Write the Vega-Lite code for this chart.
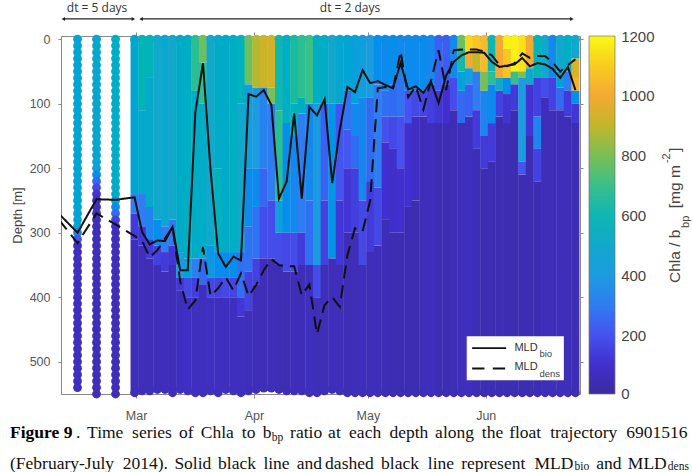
{"$schema":"https://vega.github.io/schema/vega-lite/v6.json","autosize":{"type":"none"},"padding":{"left":61,"top":36,"right":112,"bottom":78},"width":519,"height":358,"background":"white","config":{"view":{"stroke":"#8a8a8a","strokeWidth":1},"font":"Liberation Sans"},
"resolve":{"axis":{"x":"independent","y":"independent"}},
"datasets":{
"bands":[
{"t":59.6,"d":0,"e":240,"v":470},{"t":59.6,"d":240,"e":270,"v":300},{"t":59.6,"d":270,"e":310,"v":130},{"t":59.6,"d":310,"e":545,"v":60},
{"t":61.6,"d":0,"e":110,"v":590},{"t":61.6,"d":110,"e":240,"v":510},{"t":61.6,"d":240,"e":290,"v":300},{"t":61.6,"d":290,"e":320,"v":120},{"t":61.6,"d":320,"e":545,"v":60},
{"t":63.6,"d":0,"e":60,"v":580},{"t":63.6,"d":60,"e":260,"v":510},{"t":63.6,"d":260,"e":310,"v":320},{"t":63.6,"d":310,"e":340,"v":130},{"t":63.6,"d":340,"e":545,"v":55},
{"t":65.6,"d":0,"e":280,"v":500},{"t":65.6,"d":280,"e":320,"v":350},{"t":65.6,"d":320,"e":350,"v":150},{"t":65.6,"d":350,"e":545,"v":60},
{"t":67.6,"d":0,"e":290,"v":490},{"t":67.6,"d":290,"e":330,"v":300},{"t":67.6,"d":330,"e":360,"v":130},{"t":67.6,"d":360,"e":545,"v":60},
{"t":69.6,"d":0,"e":280,"v":500},{"t":69.6,"d":280,"e":320,"v":300},{"t":69.6,"d":320,"e":350,"v":120},{"t":69.6,"d":350,"e":545,"v":55},
{"t":71.6,"d":0,"e":330,"v":520},{"t":71.6,"d":330,"e":370,"v":400},{"t":71.6,"d":370,"e":390,"v":120},{"t":71.6,"d":390,"e":545,"v":70},
{"t":73.6,"d":0,"e":340,"v":540},{"t":73.6,"d":340,"e":370,"v":450},{"t":73.6,"d":370,"e":400,"v":170},{"t":73.6,"d":400,"e":545,"v":80},
{"t":75.6,"d":0,"e":80,"v":680},{"t":75.6,"d":80,"e":340,"v":530},{"t":75.6,"d":340,"e":370,"v":300},{"t":75.6,"d":370,"e":400,"v":140},{"t":75.6,"d":400,"e":545,"v":70},
{"t":77.6,"d":0,"e":36,"v":780},{"t":77.6,"d":36,"e":100,"v":680},{"t":77.6,"d":100,"e":340,"v":530},{"t":77.6,"d":340,"e":380,"v":250},{"t":77.6,"d":380,"e":545,"v":70},
{"t":79.6,"d":0,"e":320,"v":500},{"t":79.6,"d":320,"e":370,"v":380},{"t":79.6,"d":370,"e":400,"v":170},{"t":79.6,"d":400,"e":545,"v":70},
{"t":81.6,"d":0,"e":200,"v":520},{"t":81.6,"d":200,"e":330,"v":560},{"t":81.6,"d":330,"e":370,"v":350},{"t":81.6,"d":370,"e":400,"v":150},{"t":81.6,"d":400,"e":545,"v":70},
{"t":83.6,"d":0,"e":330,"v":520},{"t":83.6,"d":330,"e":370,"v":340},{"t":83.6,"d":370,"e":400,"v":170},{"t":83.6,"d":400,"e":545,"v":70},
{"t":85.6,"d":0,"e":330,"v":540},{"t":85.6,"d":330,"e":370,"v":350},{"t":85.6,"d":370,"e":400,"v":160},{"t":85.6,"d":400,"e":545,"v":70},
{"t":87.6,"d":0,"e":100,"v":560},{"t":87.6,"d":100,"e":330,"v":500},{"t":87.6,"d":330,"e":400,"v":260},{"t":87.6,"d":400,"e":430,"v":120},{"t":87.6,"d":430,"e":545,"v":70},
{"t":89.6,"d":0,"e":70,"v":780},{"t":89.6,"d":70,"e":200,"v":420},{"t":89.6,"d":200,"e":290,"v":340},{"t":89.6,"d":290,"e":360,"v":270},{"t":89.6,"d":360,"e":420,"v":150},{"t":89.6,"d":420,"e":545,"v":60},
{"t":91.6,"d":0,"e":75,"v":880},{"t":91.6,"d":75,"e":200,"v":400},{"t":91.6,"d":200,"e":260,"v":340},{"t":91.6,"d":260,"e":340,"v":270},{"t":91.6,"d":340,"e":380,"v":150},{"t":91.6,"d":380,"e":545,"v":60},
{"t":93.6,"d":0,"e":75,"v":920},{"t":93.6,"d":75,"e":200,"v":310},{"t":93.6,"d":200,"e":260,"v":240},{"t":93.6,"d":260,"e":340,"v":180},{"t":93.6,"d":340,"e":545,"v":55},
{"t":95.6,"d":0,"e":75,"v":930},{"t":95.6,"d":75,"e":100,"v":800},{"t":95.6,"d":100,"e":250,"v":300},{"t":95.6,"d":250,"e":340,"v":180},{"t":95.6,"d":340,"e":545,"v":55},
{"t":97.6,"d":0,"e":110,"v":600},{"t":97.6,"d":110,"e":250,"v":680},{"t":97.6,"d":250,"e":300,"v":420},{"t":97.6,"d":300,"e":350,"v":180},{"t":97.6,"d":350,"e":545,"v":50},
{"t":99.6,"d":0,"e":130,"v":540},{"t":99.6,"d":130,"e":300,"v":350},{"t":99.6,"d":300,"e":360,"v":170},{"t":99.6,"d":360,"e":545,"v":50},
{"t":101.6,"d":0,"e":100,"v":650},{"t":101.6,"d":100,"e":150,"v":560},{"t":101.6,"d":150,"e":300,"v":330},{"t":101.6,"d":300,"e":360,"v":180},{"t":101.6,"d":360,"e":545,"v":55},
{"t":103.6,"d":0,"e":90,"v":680},{"t":103.6,"d":90,"e":115,"v":540},{"t":103.6,"d":115,"e":300,"v":300},{"t":103.6,"d":300,"e":350,"v":130},{"t":103.6,"d":350,"e":545,"v":50},
{"t":105.6,"d":0,"e":100,"v":700},{"t":105.6,"d":100,"e":250,"v":330},{"t":105.6,"d":250,"e":350,"v":260},{"t":105.6,"d":350,"e":545,"v":70},
{"t":107.6,"d":0,"e":100,"v":540},{"t":107.6,"d":100,"e":350,"v":400},{"t":107.6,"d":350,"e":400,"v":180},{"t":107.6,"d":400,"e":545,"v":55},
{"t":109.6,"d":0,"e":100,"v":530},{"t":109.6,"d":100,"e":250,"v":230},{"t":109.6,"d":250,"e":350,"v":150},{"t":109.6,"d":350,"e":545,"v":55},
{"t":111.6,"d":0,"e":100,"v":500},{"t":111.6,"d":100,"e":340,"v":370},{"t":111.6,"d":340,"e":545,"v":60},
{"t":113.6,"d":0,"e":100,"v":480},{"t":113.6,"d":100,"e":250,"v":200},{"t":113.6,"d":250,"e":350,"v":120},{"t":113.6,"d":350,"e":545,"v":55},
{"t":115.6,"d":0,"e":80,"v":470},{"t":115.6,"d":80,"e":140,"v":280},{"t":115.6,"d":140,"e":200,"v":210},{"t":115.6,"d":200,"e":300,"v":120},{"t":115.6,"d":300,"e":545,"v":50},
{"t":117.6,"d":0,"e":100,"v":430},{"t":117.6,"d":100,"e":150,"v":330},{"t":117.6,"d":150,"e":200,"v":250},{"t":117.6,"d":200,"e":300,"v":140},{"t":117.6,"d":300,"e":545,"v":55},
{"t":119.6,"d":0,"e":90,"v":420},{"t":119.6,"d":90,"e":250,"v":330},{"t":119.6,"d":250,"e":350,"v":170},{"t":119.6,"d":350,"e":545,"v":60},
{"t":121.6,"d":0,"e":90,"v":400},{"t":121.6,"d":90,"e":220,"v":250},{"t":121.6,"d":220,"e":330,"v":130},{"t":121.6,"d":330,"e":545,"v":55},
{"t":123.6,"d":0,"e":70,"v":350},{"t":123.6,"d":70,"e":230,"v":300},{"t":123.6,"d":230,"e":320,"v":170},{"t":123.6,"d":320,"e":545,"v":60},
{"t":125.6,"d":0,"e":80,"v":340},{"t":125.6,"d":80,"e":120,"v":260},{"t":125.6,"d":120,"e":160,"v":190},{"t":125.6,"d":160,"e":280,"v":100},{"t":125.6,"d":280,"e":545,"v":50},
{"t":127.6,"d":0,"e":70,"v":350},{"t":127.6,"d":70,"e":120,"v":250},{"t":127.6,"d":120,"e":170,"v":170},{"t":127.6,"d":170,"e":300,"v":90},{"t":127.6,"d":300,"e":545,"v":45},
{"t":129.6,"d":0,"e":60,"v":330},{"t":129.6,"d":60,"e":120,"v":270},{"t":129.6,"d":120,"e":200,"v":190},{"t":129.6,"d":200,"e":300,"v":100},{"t":129.6,"d":300,"e":545,"v":45},
{"t":131.6,"d":0,"e":80,"v":340},{"t":131.6,"d":80,"e":130,"v":200},{"t":131.6,"d":130,"e":260,"v":100},{"t":131.6,"d":260,"e":545,"v":45},
{"t":133.6,"d":0,"e":80,"v":340},{"t":133.6,"d":80,"e":120,"v":170},{"t":133.6,"d":120,"e":250,"v":80},{"t":133.6,"d":250,"e":545,"v":40},
{"t":135.6,"d":0,"e":80,"v":340},{"t":135.6,"d":80,"e":120,"v":160},{"t":135.6,"d":120,"e":545,"v":60},
{"t":137.6,"d":0,"e":70,"v":330},{"t":137.6,"d":70,"e":130,"v":140},{"t":137.6,"d":130,"e":545,"v":65},
{"t":139.6,"d":0,"e":80,"v":230},{"t":139.6,"d":80,"e":130,"v":120},{"t":139.6,"d":130,"e":545,"v":45},
{"t":141.6,"d":0,"e":70,"v":220},{"t":141.6,"d":70,"e":130,"v":100},{"t":141.6,"d":130,"e":545,"v":45},
{"t":143.6,"d":0,"e":60,"v":330},{"t":143.6,"d":60,"e":110,"v":180},{"t":143.6,"d":110,"e":545,"v":50},
{"t":145.6,"d":0,"e":15,"v":780},{"t":145.6,"d":15,"e":50,"v":640},{"t":145.6,"d":50,"e":80,"v":450},{"t":145.6,"d":80,"e":130,"v":250},{"t":145.6,"d":130,"e":545,"v":60},
{"t":147.6,"d":0,"e":20,"v":1120},{"t":147.6,"d":20,"e":45,"v":1000},{"t":147.6,"d":45,"e":70,"v":400},{"t":147.6,"d":70,"e":120,"v":230},{"t":147.6,"d":120,"e":545,"v":70},
{"t":149.6,"d":0,"e":20,"v":1080},{"t":149.6,"d":20,"e":50,"v":900},{"t":149.6,"d":50,"e":110,"v":300},{"t":149.6,"d":110,"e":170,"v":130},{"t":149.6,"d":170,"e":545,"v":50},
{"t":151.6,"d":0,"e":50,"v":1050},{"t":151.6,"d":50,"e":80,"v":800},{"t":151.6,"d":80,"e":150,"v":320},{"t":151.6,"d":150,"e":200,"v":130},{"t":151.6,"d":200,"e":545,"v":45},
{"t":153.6,"d":0,"e":50,"v":600},{"t":153.6,"d":50,"e":70,"v":680},{"t":153.6,"d":70,"e":130,"v":340},{"t":153.6,"d":130,"e":190,"v":130},{"t":153.6,"d":190,"e":545,"v":45},
{"t":155.6,"d":0,"e":60,"v":1000},{"t":155.6,"d":60,"e":80,"v":500},{"t":155.6,"d":80,"e":120,"v":150},{"t":155.6,"d":120,"e":545,"v":45},
{"t":157.6,"d":0,"e":15,"v":1180},{"t":157.6,"d":15,"e":60,"v":1080},{"t":157.6,"d":60,"e":85,"v":350},{"t":157.6,"d":85,"e":130,"v":110},{"t":157.6,"d":130,"e":545,"v":45},
{"t":159.6,"d":0,"e":50,"v":1180},{"t":159.6,"d":50,"e":70,"v":700},{"t":159.6,"d":70,"e":110,"v":130},{"t":159.6,"d":110,"e":545,"v":40},
{"t":161.6,"d":0,"e":50,"v":1150},{"t":161.6,"d":50,"e":60,"v":800},{"t":161.6,"d":60,"e":190,"v":400},{"t":161.6,"d":190,"e":210,"v":200},{"t":161.6,"d":210,"e":545,"v":45},
{"t":163.6,"d":0,"e":45,"v":1000},{"t":163.6,"d":45,"e":70,"v":500},{"t":163.6,"d":70,"e":150,"v":110},{"t":163.6,"d":150,"e":545,"v":45},
{"t":165.6,"d":0,"e":60,"v":580},{"t":165.6,"d":60,"e":120,"v":150},{"t":165.6,"d":120,"e":170,"v":320},{"t":165.6,"d":170,"e":220,"v":150},{"t":165.6,"d":220,"e":545,"v":45},
{"t":167.6,"d":0,"e":60,"v":500},{"t":167.6,"d":60,"e":90,"v":180},{"t":167.6,"d":90,"e":545,"v":60},
{"t":169.6,"d":0,"e":60,"v":330},{"t":169.6,"d":60,"e":110,"v":150},{"t":169.6,"d":110,"e":545,"v":55},
{"t":171.6,"d":0,"e":50,"v":500},{"t":171.6,"d":50,"e":75,"v":450},{"t":171.6,"d":75,"e":110,"v":250},{"t":171.6,"d":110,"e":545,"v":60},
{"t":173.6,"d":0,"e":50,"v":530},{"t":173.6,"d":50,"e":80,"v":300},{"t":173.6,"d":80,"e":120,"v":130},{"t":173.6,"d":120,"e":545,"v":55},
{"t":175.6,"d":0,"e":30,"v":500},{"t":175.6,"d":30,"e":60,"v":950},{"t":175.6,"d":60,"e":80,"v":1020},{"t":175.6,"d":80,"e":100,"v":350},{"t":175.6,"d":100,"e":130,"v":120},{"t":175.6,"d":130,"e":545,"v":50}
],
"dots":[
{"t":44.6,"d":0,"v":470},{"t":44.6,"d":10,"v":470},{"t":44.6,"d":20,"v":470},{"t":44.6,"d":30,"v":470},{"t":44.6,"d":40,"v":470},{"t":44.6,"d":50,"v":470},{"t":44.6,"d":60,"v":470},{"t":44.6,"d":70,"v":470},{"t":44.6,"d":80,"v":470},{"t":44.6,"d":90,"v":470},{"t":44.6,"d":100,"v":470},{"t":44.6,"d":110,"v":470},{"t":44.6,"d":120,"v":470},{"t":44.6,"d":130,"v":470},{"t":44.6,"d":140,"v":470},{"t":44.6,"d":150,"v":470},{"t":44.6,"d":160,"v":470},{"t":44.6,"d":170,"v":470},{"t":44.6,"d":180,"v":470},{"t":44.6,"d":190,"v":470},{"t":44.6,"d":200,"v":470},{"t":44.6,"d":210,"v":470},{"t":44.6,"d":220,"v":470},{"t":44.6,"d":230,"v":470},{"t":44.6,"d":240,"v":470},{"t":44.6,"d":250,"v":470},{"t":44.6,"d":260,"v":470},{"t":44.6,"d":270,"v":470},{"t":44.6,"d":280,"v":470},{"t":44.6,"d":290,"v":470},{"t":44.6,"d":300,"v":320},{"t":44.6,"d":310,"v":200},{"t":44.6,"d":320,"v":70},{"t":44.6,"d":330,"v":70},{"t":44.6,"d":340,"v":70},{"t":44.6,"d":350,"v":70},{"t":44.6,"d":360,"v":70},{"t":44.6,"d":370,"v":70},{"t":44.6,"d":380,"v":70},{"t":44.6,"d":390,"v":70},{"t":44.6,"d":400,"v":70},{"t":44.6,"d":410,"v":70},{"t":44.6,"d":420,"v":70},{"t":44.6,"d":430,"v":70},{"t":44.6,"d":440,"v":70},{"t":44.6,"d":450,"v":70},{"t":44.6,"d":460,"v":70},{"t":44.6,"d":470,"v":70},{"t":44.6,"d":480,"v":70},{"t":44.6,"d":490,"v":70},{"t":44.6,"d":500,"v":70},{"t":44.6,"d":510,"v":70},{"t":44.6,"d":520,"v":70},{"t":44.6,"d":530,"v":70},{"t":44.6,"d":540,"v":70},
{"t":49.6,"d":0,"v":480},{"t":49.6,"d":10,"v":480},{"t":49.6,"d":20,"v":480},{"t":49.6,"d":30,"v":480},{"t":49.6,"d":40,"v":480},{"t":49.6,"d":50,"v":480},{"t":49.6,"d":60,"v":480},{"t":49.6,"d":70,"v":480},{"t":49.6,"d":80,"v":480},{"t":49.6,"d":90,"v":480},{"t":49.6,"d":100,"v":480},{"t":49.6,"d":110,"v":480},{"t":49.6,"d":120,"v":480},{"t":49.6,"d":130,"v":480},{"t":49.6,"d":140,"v":480},{"t":49.6,"d":150,"v":480},{"t":49.6,"d":160,"v":480},{"t":49.6,"d":170,"v":480},{"t":49.6,"d":180,"v":480},{"t":49.6,"d":190,"v":480},{"t":49.6,"d":200,"v":420},{"t":49.6,"d":210,"v":350},{"t":49.6,"d":220,"v":250},{"t":49.6,"d":230,"v":170},{"t":49.6,"d":240,"v":110},{"t":49.6,"d":250,"v":60},{"t":49.6,"d":260,"v":60},{"t":49.6,"d":270,"v":60},{"t":49.6,"d":280,"v":60},{"t":49.6,"d":290,"v":60},{"t":49.6,"d":300,"v":60},{"t":49.6,"d":310,"v":60},{"t":49.6,"d":320,"v":60},{"t":49.6,"d":330,"v":60},{"t":49.6,"d":340,"v":60},{"t":49.6,"d":350,"v":60},{"t":49.6,"d":360,"v":60},{"t":49.6,"d":370,"v":60},{"t":49.6,"d":380,"v":60},{"t":49.6,"d":390,"v":60},{"t":49.6,"d":400,"v":60},{"t":49.6,"d":410,"v":60},{"t":49.6,"d":420,"v":60},{"t":49.6,"d":430,"v":60},{"t":49.6,"d":440,"v":60},{"t":49.6,"d":450,"v":60},{"t":49.6,"d":460,"v":60},{"t":49.6,"d":470,"v":60},{"t":49.6,"d":480,"v":60},{"t":49.6,"d":490,"v":60},{"t":49.6,"d":500,"v":60},{"t":49.6,"d":510,"v":60},{"t":49.6,"d":520,"v":60},{"t":49.6,"d":530,"v":60},{"t":49.6,"d":540,"v":60},{"t":49.6,"d":550,"v":60},
{"t":54.6,"d":0,"v":530},{"t":54.6,"d":10,"v":530},{"t":54.6,"d":20,"v":530},{"t":54.6,"d":30,"v":530},{"t":54.6,"d":40,"v":530},{"t":54.6,"d":50,"v":530},{"t":54.6,"d":60,"v":530},{"t":54.6,"d":70,"v":530},{"t":54.6,"d":80,"v":530},{"t":54.6,"d":90,"v":530},{"t":54.6,"d":100,"v":530},{"t":54.6,"d":110,"v":530},{"t":54.6,"d":120,"v":530},{"t":54.6,"d":130,"v":530},{"t":54.6,"d":140,"v":530},{"t":54.6,"d":150,"v":530},{"t":54.6,"d":160,"v":530},{"t":54.6,"d":170,"v":530},{"t":54.6,"d":180,"v":530},{"t":54.6,"d":190,"v":530},{"t":54.6,"d":200,"v":530},{"t":54.6,"d":210,"v":530},{"t":54.6,"d":220,"v":530},{"t":54.6,"d":230,"v":530},{"t":54.6,"d":240,"v":530},{"t":54.6,"d":250,"v":430},{"t":54.6,"d":260,"v":350},{"t":54.6,"d":270,"v":250},{"t":54.6,"d":280,"v":140},{"t":54.6,"d":290,"v":100},{"t":54.6,"d":300,"v":60},{"t":54.6,"d":310,"v":60},{"t":54.6,"d":320,"v":60},{"t":54.6,"d":330,"v":60},{"t":54.6,"d":340,"v":60},{"t":54.6,"d":350,"v":60},{"t":54.6,"d":360,"v":60},{"t":54.6,"d":370,"v":60},{"t":54.6,"d":380,"v":60},{"t":54.6,"d":390,"v":60},{"t":54.6,"d":400,"v":60},{"t":54.6,"d":410,"v":60},{"t":54.6,"d":420,"v":60},{"t":54.6,"d":430,"v":60},{"t":54.6,"d":440,"v":60},{"t":54.6,"d":450,"v":60},{"t":54.6,"d":460,"v":60},{"t":54.6,"d":470,"v":60},{"t":54.6,"d":480,"v":60},{"t":54.6,"d":490,"v":60},{"t":54.6,"d":500,"v":60},{"t":54.6,"d":510,"v":60},{"t":54.6,"d":520,"v":60},{"t":54.6,"d":530,"v":60},{"t":54.6,"d":540,"v":60},{"t":54.6,"d":550,"v":60},
{"t":59.6,"d":0,"v":470},{"t":61.6,"d":0,"v":590},{"t":63.6,"d":0,"v":580},{"t":65.6,"d":0,"v":500},{"t":67.6,"d":0,"v":490},{"t":69.6,"d":0,"v":500},{"t":71.6,"d":0,"v":520},{"t":73.6,"d":0,"v":540},{"t":75.6,"d":0,"v":680},{"t":77.6,"d":0,"v":780},{"t":79.6,"d":0,"v":500},{"t":81.6,"d":0,"v":520},{"t":83.6,"d":0,"v":520},{"t":85.6,"d":0,"v":540},{"t":87.6,"d":0,"v":560},{"t":89.6,"d":0,"v":780},{"t":91.6,"d":0,"v":880},{"t":93.6,"d":0,"v":920},{"t":95.6,"d":0,"v":930},{"t":97.6,"d":0,"v":600},{"t":99.6,"d":0,"v":540},{"t":101.6,"d":0,"v":650},{"t":103.6,"d":0,"v":680},{"t":105.6,"d":0,"v":700},{"t":107.6,"d":0,"v":540},{"t":109.6,"d":0,"v":530},{"t":111.6,"d":0,"v":500},{"t":113.6,"d":0,"v":480},{"t":115.6,"d":0,"v":470},{"t":117.6,"d":0,"v":430},{"t":119.6,"d":0,"v":420},{"t":121.6,"d":0,"v":400},{"t":123.6,"d":0,"v":350},{"t":125.6,"d":0,"v":340},{"t":127.6,"d":0,"v":350},{"t":129.6,"d":0,"v":330},{"t":131.6,"d":0,"v":340},{"t":133.6,"d":0,"v":340},{"t":135.6,"d":0,"v":340},{"t":137.6,"d":0,"v":330},{"t":139.6,"d":0,"v":230},{"t":141.6,"d":0,"v":220},{"t":143.6,"d":0,"v":330},{"t":145.6,"d":0,"v":780},{"t":147.6,"d":0,"v":1120},{"t":149.6,"d":0,"v":1080},{"t":151.6,"d":0,"v":1050},{"t":153.6,"d":0,"v":600},{"t":155.6,"d":0,"v":1000},{"t":157.6,"d":0,"v":1180},{"t":159.6,"d":0,"v":1180},{"t":161.6,"d":0,"v":1150},{"t":163.6,"d":0,"v":1000},{"t":165.6,"d":0,"v":580},{"t":167.6,"d":0,"v":500},{"t":169.6,"d":0,"v":330},{"t":171.6,"d":0,"v":500},{"t":173.6,"d":0,"v":530},{"t":175.6,"d":0,"v":500},
{"t":59.6,"d":548,"v":60},{"t":61.6,"d":545,"v":60},{"t":63.6,"d":545,"v":55},{"t":65.6,"d":543,"v":60},{"t":67.6,"d":543,"v":60},{"t":69.6,"d":548,"v":55},{"t":71.6,"d":543,"v":70},{"t":73.6,"d":545,"v":80},{"t":75.6,"d":548,"v":70},{"t":77.6,"d":548,"v":70},{"t":79.6,"d":545,"v":70},{"t":81.6,"d":548,"v":70},{"t":83.6,"d":543,"v":70},{"t":85.6,"d":545,"v":70},{"t":87.6,"d":548,"v":70},{"t":89.6,"d":545,"v":60},{"t":91.6,"d":543,"v":60},{"t":93.6,"d":541,"v":55},{"t":95.6,"d":541,"v":55},{"t":97.6,"d":543,"v":50},{"t":99.6,"d":545,"v":50},{"t":101.6,"d":545,"v":55},{"t":103.6,"d":545,"v":50},{"t":105.6,"d":548,"v":70},{"t":107.6,"d":548,"v":55},{"t":109.6,"d":545,"v":55},{"t":111.6,"d":543,"v":60},{"t":113.6,"d":545,"v":55},{"t":115.6,"d":548,"v":50},{"t":117.6,"d":548,"v":55},{"t":119.6,"d":548,"v":60},{"t":121.6,"d":548,"v":55},{"t":123.6,"d":548,"v":60},{"t":125.6,"d":548,"v":50},{"t":127.6,"d":548,"v":45},{"t":129.6,"d":548,"v":45},{"t":131.6,"d":548,"v":45},{"t":133.6,"d":548,"v":40},{"t":135.6,"d":548,"v":60},{"t":137.6,"d":548,"v":65},{"t":139.6,"d":548,"v":45},{"t":141.6,"d":548,"v":45},{"t":143.6,"d":548,"v":50},{"t":145.6,"d":548,"v":60},{"t":147.6,"d":548,"v":70},{"t":149.6,"d":548,"v":50},{"t":151.6,"d":548,"v":45},{"t":153.6,"d":548,"v":45},{"t":155.6,"d":548,"v":45},{"t":157.6,"d":548,"v":45},{"t":159.6,"d":548,"v":40},{"t":161.6,"d":548,"v":45},{"t":163.6,"d":548,"v":45},{"t":165.6,"d":548,"v":45},{"t":167.6,"d":548,"v":60},{"t":169.6,"d":548,"v":55},{"t":171.6,"d":548,"v":60},{"t":173.6,"d":548,"v":55},{"t":175.6,"d":548,"v":50}
],
"mld":[
{"t":39.6,"d":270,"s":"bio"},{"t":44.6,"d":300,"s":"bio"},{"t":49.6,"d":248,"s":"bio"},{"t":54.6,"d":249,"s":"bio"},{"t":59.6,"d":245,"s":"bio"},{"t":61.6,"d":299,"s":"bio"},{"t":63.6,"d":318,"s":"bio"},{"t":65.6,"d":312,"s":"bio"},{"t":67.6,"d":313,"s":"bio"},{"t":69.6,"d":291,"s":"bio"},{"t":71.6,"d":358,"s":"bio"},{"t":73.6,"d":358,"s":"bio"},{"t":75.6,"d":113,"s":"bio"},{"t":77.6,"d":37,"s":"bio"},{"t":79.6,"d":203,"s":"bio"},{"t":81.6,"d":332,"s":"bio"},{"t":83.6,"d":353,"s":"bio"},{"t":85.6,"d":337,"s":"bio"},{"t":87.6,"d":343,"s":"bio"},{"t":89.6,"d":85,"s":"bio"},{"t":91.6,"d":89,"s":"bio"},{"t":93.6,"d":79,"s":"bio"},{"t":95.6,"d":102,"s":"bio"},{"t":97.6,"d":247,"s":"bio"},{"t":99.6,"d":221,"s":"bio"},{"t":101.6,"d":115,"s":"bio"},{"t":103.6,"d":247,"s":"bio"},{"t":105.6,"d":105,"s":"bio"},{"t":107.6,"d":118,"s":"bio"},{"t":109.6,"d":93,"s":"bio"},{"t":111.6,"d":223,"s":"bio"},{"t":113.6,"d":141,"s":"bio"},{"t":115.6,"d":74,"s":"bio"},{"t":117.6,"d":82,"s":"bio"},{"t":119.6,"d":48,"s":"bio"},{"t":121.6,"d":68,"s":"bio"},{"t":123.6,"d":65,"s":"bio"},{"t":125.6,"d":71,"s":"bio"},{"t":127.6,"d":76,"s":"bio"},{"t":129.6,"d":37,"s":"bio"},{"t":131.6,"d":78,"s":"bio"},{"t":133.6,"d":73,"s":"bio"},{"t":135.6,"d":83,"s":"bio"},{"t":137.6,"d":66,"s":"bio"},{"t":139.6,"d":99,"s":"bio"},{"t":141.6,"d":56,"s":"bio"},{"t":143.6,"d":35,"s":"bio"},{"t":145.6,"d":25,"s":"bio"},{"t":147.6,"d":20,"s":"bio"},{"t":149.6,"d":20,"s":"bio"},{"t":151.6,"d":21,"s":"bio"},{"t":153.6,"d":35,"s":"bio"},{"t":155.6,"d":43,"s":"bio"},{"t":157.6,"d":41,"s":"bio"},{"t":159.6,"d":39,"s":"bio"},{"t":161.6,"d":29,"s":"bio"},{"t":163.6,"d":42,"s":"bio"},{"t":165.6,"d":37,"s":"bio"},{"t":167.6,"d":39,"s":"bio"},{"t":169.6,"d":46,"s":"bio"},{"t":171.6,"d":60,"s":"bio"},{"t":173.6,"d":43,"s":"bio"},{"t":175.6,"d":79,"s":"bio"},
{"t":39.6,"d":279,"s":"dens"},{"t":44.6,"d":316,"s":"dens"},{"t":49.6,"d":270,"s":"dens"},{"t":54.6,"d":287,"s":"dens"},{"t":59.6,"d":305,"s":"dens"},{"t":61.6,"d":313,"s":"dens"},{"t":63.6,"d":338,"s":"dens"},{"t":65.6,"d":327,"s":"dens"},{"t":67.6,"d":309,"s":"dens"},{"t":69.6,"d":291,"s":"dens"},{"t":71.6,"d":375,"s":"dens"},{"t":73.6,"d":419,"s":"dens"},{"t":75.6,"d":405,"s":"dens"},{"t":77.6,"d":322,"s":"dens"},{"t":79.6,"d":398,"s":"dens"},{"t":81.6,"d":386,"s":"dens"},{"t":83.6,"d":369,"s":"dens"},{"t":85.6,"d":389,"s":"dens"},{"t":87.6,"d":363,"s":"dens"},{"t":89.6,"d":398,"s":"dens"},{"t":91.6,"d":381,"s":"dens"},{"t":93.6,"d":358,"s":"dens"},{"t":95.6,"d":341,"s":"dens"},{"t":97.6,"d":350,"s":"dens"},{"t":99.6,"d":352,"s":"dens"},{"t":101.6,"d":352,"s":"dens"},{"t":103.6,"d":397,"s":"dens"},{"t":105.6,"d":380,"s":"dens"},{"t":107.6,"d":457,"s":"dens"},{"t":109.6,"d":412,"s":"dens"},{"t":111.6,"d":400,"s":"dens"},{"t":113.6,"d":415,"s":"dens"},{"t":115.6,"d":335,"s":"dens"},{"t":117.6,"d":293,"s":"dens"},{"t":119.6,"d":298,"s":"dens"},{"t":121.6,"d":250,"s":"dens"},{"t":123.6,"d":76,"s":"dens"},{"t":125.6,"d":74,"s":"dens"},{"t":127.6,"d":76,"s":"dens"},{"t":129.6,"d":19,"s":"dens"},{"t":131.6,"d":90,"s":"dens"},{"t":133.6,"d":73,"s":"dens"},{"t":135.6,"d":109,"s":"dens"},{"t":137.6,"d":64,"s":"dens"},{"t":139.6,"d":17,"s":"dens"},{"t":141.6,"d":79,"s":"dens"},{"t":143.6,"d":17,"s":"dens"},{"t":145.6,"d":16,"s":"dens"},{"t":147.6,"d":16,"s":"dens"},{"t":149.6,"d":16,"s":"dens"},{"t":151.6,"d":19,"s":"dens"},{"t":153.6,"d":25,"s":"dens"},{"t":155.6,"d":40,"s":"dens"},{"t":157.6,"d":42,"s":"dens"},{"t":159.6,"d":37,"s":"dens"},{"t":161.6,"d":22,"s":"dens"},{"t":163.6,"d":29,"s":"dens"},{"t":165.6,"d":26,"s":"dens"},{"t":167.6,"d":26,"s":"dens"},{"t":169.6,"d":36,"s":"dens"},{"t":171.6,"d":50,"s":"dens"},{"t":173.6,"d":40,"s":"dens"},{"t":175.6,"d":31,"s":"dens"}
],
"cap":[
{"t":44.2,"d":618,"w":"."},{"t":47.11,"d":618,"w":"Time"},{"t":58.95,"d":618,"w":"series"},{"t":71.32,"d":618,"w":"of"},{"t":77.03,"d":618,"w":"Chla"},{"t":87.82,"d":618,"w":"to"},{"t":93.34,"d":618,"w":"b"},{"t":100.53,"d":618,"w":"ratio"},{"t":110.53,"d":618,"w":"at"},{"t":116.05,"d":618,"w":"each"},{"t":126.66,"d":618,"w":"depth"},{"t":138.68,"d":618,"w":"along"},{"t":150.97,"d":618,"w":"the"},{"t":158.16,"d":618,"w":"float"},{"t":168.95,"d":618,"w":"trajectory"},{"t":188.95,"d":618,"w":"6901516"},
{"t":26.84,"d":667,"w":"(February-July"},{"t":56.5,"d":667,"w":"2014)."},{"t":70.08,"d":667,"w":"Solid"},{"t":81.58,"d":667,"w":"black"},{"t":93.5,"d":667,"w":"line"},{"t":102.29,"d":667,"w":"and"},{"t":109.74,"d":667,"w":"dashed"},{"t":124.47,"d":667,"w":"black"},{"t":136.76,"d":667,"w":"line"},{"t":145.53,"d":667,"w":"represent"},{"t":164.82,"d":667,"w":"MLD"},{"t":181.05,"d":667,"w":"and"},{"t":189.39,"d":667,"w":"MLD"}
],
"capsub":[{"t":95.71,"d":623,"w":"bp"},{"t":175.34,"d":668.5,"w":"bio"},{"t":199.92,"d":668.5,"w":"dens"}]
},
"encoding":{
"x":{"field":"t","type":"quantitative","scale":{"domain":[40.25,176.8],"nice":false,"zero":false},"axis":null},
"y":{"field":"d","type":"quantitative","scale":{"domain":[-5,550],"reverse":true,"nice":false,"zero":false},"axis":null}
},
"layer":[
{"data":{"name":"bands"},"mark":{"type":"rect","width":8},"encoding":{
"x":{"field":"t","type":"quantitative","scale":{"domain":[40.25,176.8],"nice":false,"zero":false},"axis":{"orient":"bottom","values":[60,91,121,152],"labelExpr":"{'60':'Mar','91':'Apr','121':'May','152':'Jun'}[datum.value]","title":null,"grid":false,"domain":false,"tickSize":4,"tickColor":"#888888","labelColor":"#555555","labelFont":"Liberation Sans","labelFontSize":12.5,"labelPadding":11}},
"y":{"field":"d","type":"quantitative","scale":{"domain":[-5,550],"reverse":true,"nice":false,"zero":false},"axis":{"orient":"left","values":[0,100,200,300,400,500],"title":"Depth [m]","titleFont":"Liberation Sans","titleFontSize":13,"titleFontWeight":"normal","titleColor":"#444444","titlePadding":5,"grid":false,"domain":false,"tickSize":3,"tickColor":"#888888","labelColor":"#555555","labelFont":"Liberation Sans","labelFontSize":12.5,"labelPadding":8}},
"y2":{"field":"e"},"color":{"field":"v","type":"quantitative","scale":{"domain":[0,100,200,300,400,500,600,700,800,900,1000,1100,1200],"range":["#3a2b9c","#4130cf","#4553f0","#2f7df0","#1c9ce0","#12a8cc","#0fb6b2","#3abf8a","#7abf55","#c2b62b","#f4a933","#f8cc20","#f9f914"]},"legend":{"orient":"none","legendX":528,"legendY":0,"direction":"vertical","title":null,"values":[0,200,400,600,800,1000,1200],"labelExpr":"''","gradientLength":358,"gradientThickness":26,"gradientStrokeColor":"#777777","gradientStrokeWidth":0.7}}}},
{"data":{"name":"dots"},"mark":{"type":"circle","size":78,"opacity":1},"encoding":{"color":{"field":"v","type":"quantitative"}}},
{"data":{"name":"mld"},"mark":{"type":"line","stroke":"#111111","strokeWidth":2,"clip":true,"interpolate":"linear"},"encoding":{"strokeDash":{"field":"s","type":"nominal","scale":{"domain":["bio","dens"],"range":[[1,0],[13,7]]},"legend":null}}},
{"data":{"values":[{"t":147,"t2":172.55,"d":460.5,"d2":528.7}]},"mark":{"type":"rect","fill":"white"},"encoding":{
"x":{"field":"t","type":"quantitative","scale":{"domain":[40.25,176.8],"nice":false,"zero":false},"axis":{"orient":"top","values":[60,91,121,152],"labels":false,"domain":false,"grid":false,"title":null,"tickSize":4,"tickColor":"#888888"}},
"y":{"field":"d","type":"quantitative","scale":{"domain":[-5,550],"reverse":true,"nice":false,"zero":false},"axis":{"orient":"right","values":[0,100,200,300,400,500],"labels":false,"domain":false,"grid":false,"title":null,"tickSize":3,"tickColor":"#888888"}},"x2":{"field":"t2"},"y2":{"field":"d2"}}},
{"data":{"values":[{"t":148.42,"t2":157.37,"d":479}]},"mark":{"type":"rule","stroke":"#111111","strokeWidth":1.8},"encoding":{"x2":{"field":"t2"}}},
{"data":{"values":[{"t":148.42,"t2":157.37,"d":510.5}]},"mark":{"type":"rule","stroke":"#111111","strokeWidth":1.8,"strokeDash":[12.3,8.4]},"encoding":{"x2":{"field":"t2"}}},
{"data":{"values":[{"t":159.55,"d":478.6,"w":"MLD"},{"t":159.55,"d":508.5,"w":"MLD"}]},"mark":{"type":"text","align":"left","baseline":"middle","font":"Liberation Sans","fontSize":11,"fill":"#333333"},"encoding":{"text":{"field":"w"}}},
{"data":{"values":[{"t":166.13,"d":487.3,"w":"bio"},{"t":166.13,"d":518.3,"w":"dens"}]},"mark":{"type":"text","align":"left","baseline":"middle","font":"Liberation Sans","fontSize":9.5,"fill":"#444444"},"encoding":{"text":{"field":"w"}}},
{"data":{"values":[{"t":40.87,"t2":59.29,"d":-31.5},{"t":61.32,"t2":174.66,"d":-31.5}]},"mark":{"type":"rule","stroke":"#222222","strokeWidth":1.2},"encoding":{"x2":{"field":"t2"}}},
{"data":{"values":[{"t":40.87,"d":-31.5},{"t":61.32,"d":-31.5}]},"mark":{"type":"point","shape":"triangle-left","filled":true,"size":16,"fill":"#222222","opacity":1}},
{"data":{"values":[{"t":59.29,"d":-31.5},{"t":174.66,"d":-31.5}]},"mark":{"type":"point","shape":"triangle-right","filled":true,"size":16,"fill":"#222222","opacity":1}},
{"data":{"values":[{"t":49.74,"d":-48.8,"w":"dt = 5 days"},{"t":116.3,"d":-48.8,"w":"dt = 2 days"}]},"mark":{"type":"text","align":"center","baseline":"middle","font":"Open Sans","fontSize":12,"fill":"#333333"},"encoding":{"text":{"field":"w"}}},
{"data":{"values":[{"t":187.63,"d":550,"w":"0"},{"t":187.63,"d":460,"w":"200"},{"t":187.63,"d":367,"w":"400"},{"t":187.63,"d":274,"w":"600"},{"t":187.63,"d":181.4,"w":"800"},{"t":187.63,"d":88.4,"w":"1000"},{"t":187.63,"d":-3.6,"w":"1200"}]},"mark":{"type":"text","align":"left","baseline":"middle","font":"Liberation Sans","fontSize":15,"fill":"#444444"},"encoding":{"text":{"field":"w"}}},
{"data":{"values":[{"t":201.84,"d":378,"w":"Chla / b"},{"t":201.84,"d":262,"w":"[mg m"},{"t":201.84,"d":174.7,"w":"]"}]},"mark":{"type":"text","angle":270,"align":"left","baseline":"middle","font":"Liberation Sans","fontSize":15.5,"fill":"#444444"},"encoding":{"text":{"field":"w"}}},
{"data":{"values":[{"t":204.74,"d":292.6,"w":"bp"},{"t":199.66,"d":192,"w":"-2"}]},"mark":{"type":"text","angle":270,"align":"left","baseline":"middle","font":"Liberation Sans","fontSize":11,"fill":"#444444"},"encoding":{"text":{"field":"w"}}},
{"data":{"values":[{"t":26.84,"d":618,"w":"Figure 9"}]},"mark":{"type":"text","align":"left","baseline":"alphabetic","font":"Liberation Serif","fontWeight":"bold","fontSize":17.5,"fill":"#000000"},"encoding":{"text":{"field":"w"}}},
{"data":{"name":"cap"},"mark":{"type":"text","align":"left","baseline":"alphabetic","font":"Liberation Serif","fontSize":17.5,"fill":"#111111"},"encoding":{"text":{"field":"w"}}},
{"data":{"name":"capsub"},"mark":{"type":"text","align":"left","baseline":"alphabetic","font":"Liberation Serif","fontSize":11.5,"fill":"#111111"},"encoding":{"text":{"field":"w"}}}
]}
